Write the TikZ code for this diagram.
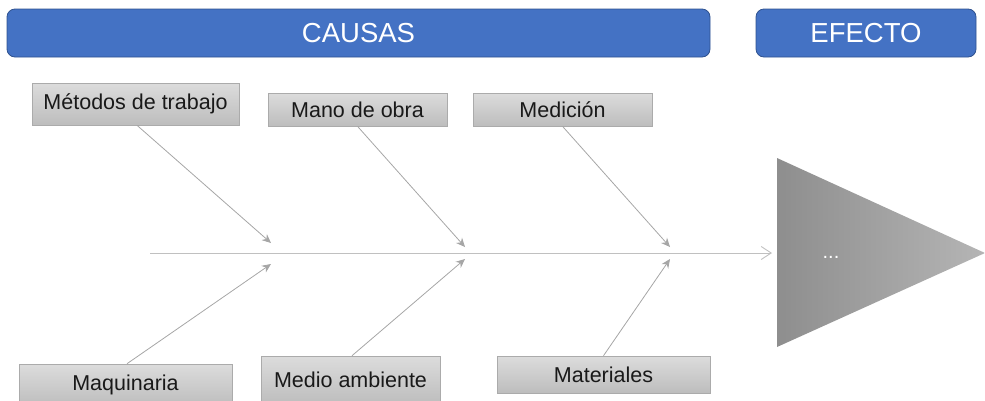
\documentclass[tikz,border=0pt]{standalone}
\usepackage{fontspec}
\setmainfont{Liberation Sans}
\usetikzlibrary{arrows.meta}
\definecolor{hdrblue}{HTML}{4472C4}
\definecolor{hdrborder}{HTML}{2F528F}
\definecolor{boxtop}{HTML}{DCDCDC}
\definecolor{boxbot}{HTML}{BDBDBD}
\definecolor{boxborder}{HTML}{ABABAB}
\definecolor{linegray}{HTML}{A6A6A6}
\definecolor{spinegray}{HTML}{C0C0C0}
\definecolor{triL}{HTML}{8E8E8E}
\definecolor{triR}{HTML}{B5B5B5}
\tikzset{
  header/.style={draw=hdrborder, line width=0.8pt, fill=hdrblue, rounded corners=8pt,
    text=white, font=\fontsize{27.5}{32}\selectfont, inner sep=0pt},
  causebox/.style={draw=boxborder, line width=0.6pt, top color=boxtop, bottom color=boxbot,
    text=black!90, font=\fontsize{21.5}{25}\selectfont, inner sep=0pt},
  bone/.style={draw=linegray, line width=0.8pt, -{Stealth[length=9pt,width=8pt]}},
  spine/.style={draw=spinegray, line width=0.9pt, -{Straight Barb[length=10pt,width=13pt]}},
}
\begin{document}
\begin{tikzpicture}[x=1pt,y=-1pt]
\useasboundingbox (0,0) rectangle (985,400);
\begin{scope}
\clip (0,0) rectangle (985,400);
% headers
\node[header, minimum width=703pt, minimum height=48pt] (causas) at (358.5,33) {CAUSAS};
\node[header, minimum width=220pt, minimum height=48pt] (efecto) at (866,33) {EFECTO};
% cause boxes
\node[causebox, minimum width=207pt, minimum height=42pt] (metodos) at (135.5,104) {Métodos de trabajo};
\node[causebox, minimum width=179pt, minimum height=33pt] (mano) at (357.5,109.5) {Mano de obra};
\node[causebox, minimum width=179pt, minimum height=33pt] (medicion) at (562.5,109.5) {Medición};
\node[causebox, minimum width=213pt, minimum height=42pt] (maquinaria) at (125.5,385) {Maquinaria};
\node[causebox, minimum width=179pt, minimum height=48pt] (medio) at (350.5,380) {Medio ambiente};
\node[causebox, minimum width=213pt, minimum height=37pt] (materiales) at (603.5,374.5) {Materiales};
% effect triangle
\shade[left color=triL, right color=triR] (777,158) -- (985,253) -- (777,347) -- cycle;
\node[text=white, font=\fontsize{20}{22}\selectfont, inner sep=0pt] (efx) at (831,257) {...};
% spine
\coordinate (tail) at (150,253);
\coordinate (head) at (772,253);
\draw[spine] (tail) -- (head);
% bone ends
\coordinate (e1) at (271,243);
\coordinate (e2) at (271,264);
\coordinate (e3) at (465,247);
\coordinate (e4) at (465,259);
\coordinate (e5) at (670,247);
\coordinate (e6) at (670,259);
\draw[bone] (metodos.south) ++(1.5,0) coordinate (s1) -- (e1);
\draw[bone] (maquinaria.north) ++(1.5,0) coordinate (s2) -- (e2);
\draw[bone] (mano.south) -- (e3);
\draw[bone] (medio.north) ++(1.5,0) coordinate (s4) -- (e4);
\draw[bone] (medicion.south) -- (e5);
\draw[bone] (materiales.north) -- (e6);
\end{scope}
\end{tikzpicture}
\end{document}
